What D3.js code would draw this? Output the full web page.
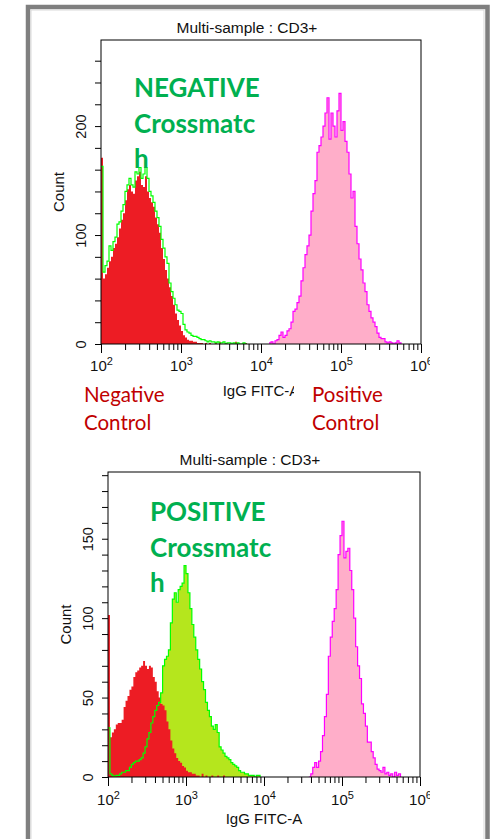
<!DOCTYPE html>
<html>
<head>
<meta charset="utf-8">
<script src="https://cdn.jsdelivr.net/npm/d3@7"></script>
<style>
body { margin: 0; background: #fff; }
svg { display: block; }
.ax text, .ttl { font-family: "Liberation Sans", Arial, sans-serif; fill: #111; }
.note { font-family: Lato, "Open Sans", sans-serif; }
</style>
</head>
<body>
<div class="svgs"></div>
<script>
// histogram bins: log10 channel width
const binStep = 0.025

// top plot (negative crossmatch)
const topNegCtrlStart = 2.0
const topNegCtrl = [171, 60, 64, 70, 76, 80, 88, 92, 98, 106,
    114, 120, 132, 142, 146, 140, 138, 150, 154, 158,
    146, 144, 154, 140, 134, 130, 126, 116, 110, 102,
    88, 78, 68, 60, 52, 44, 36, 28, 22, 17,
    12, 8, 6, 4, 3, 3, 2, 2, 1, 1,
    1, 0, 1, 0, 1, 0, 0, 1, 0, 2,
    0, 0, 1, 0, 0, 0, 0, 2, 0, 0,
    0, 0, 1]
const topPatientStart = 2.0
const topPatient = [163, 66, 72, 76, 90, 86, 94, 98, 110, 112,
    122, 128, 140, 146, 152, 146, 144, 158, 156, 162,
    152, 156, 162, 152, 140, 136, 130, 122, 116, 108,
    96, 88, 80, 74, 56, 48, 42, 36, 31, 30,
    28, 18, 13, 11, 10, 8, 7, 7, 6, 5,
    4, 4, 3, 2, 3, 2, 2, 1, 2, 1,
    1, 2, 0, 1, 1, 0, 1, 0, 1, 0,
    0, 1, 0]
const topPosCtrlStart = 4.1
const topPosCtrl = [1, 2, 0, 3, 4, 8, 11, 6, 8, 12,
    14, 20, 30, 32, 38, 44, 58, 70, 82, 90,
    100, 122, 138, 150, 176, 182, 190, 200, 212, 226,
    188, 212, 200, 190, 214, 230, 196, 204, 186, 176,
    156, 134, 140, 108, 92, 78, 68, 56, 48, 36,
    30, 24, 20, 16, 10, 6, 5, 5, 2, 1,
    2, 1, 0, 1, 3, 1]

// bottom plot (positive crossmatch)
const botNegCtrlStart = 2.0
const botNegCtrl = [102, 25, 28, 30, 33, 34, 34, 36, 44, 48,
    51, 55, 57, 63, 66, 67, 69, 70, 73, 70,
    68, 70, 69, 63, 60, 54, 50, 46, 45, 42,
    35, 30, 23, 18, 15, 12, 10, 9, 7, 6,
    4, 3, 3, 2, 2, 1, 1, 0, 2, 0,
    1, 0, 0, 1, 0, 0, 1, 0, 0, 1]
const botPatientStart = 2.0
const botPatient = [31, 2, 1, 0, 1, 1, 2, 3, 3, 4,
    4, 6, 8, 9, 10, 10, 11, 12, 15, 19,
    24, 28, 34, 38, 42, 45, 47, 53, 70, 74,
    76, 80, 97, 112, 116, 110, 118, 120, 122, 133,
    128, 116, 106, 96, 88, 80, 74, 68, 60, 55,
    47, 42, 38, 32, 30, 33, 28, 19, 17, 15,
    13, 12, 11, 9, 8, 7, 6, 4, 3, 3,
    2, 2, 1, 1, 1, 0, 1, 1]
const botPosCtrlStart = 4.575
const botPosCtrl = [0, 2, 6, 9, 6, 10, 16, 26, 38, 52,
    76, 88, 98, 106, 118, 140, 152, 161, 138, 142,
    144, 130, 118, 100, 82, 70, 62, 46, 40, 32,
    22, 22, 16, 12, 8, 5, 4, 3, 6, 2,
    3, 1, 2, 0, 3, 1, 2]

const xMajor = [1e2, 1e3, 1e4, 1e5, 1e6]

const red = "#ED1C24", lime = "#00FF00", yellowGreen = "#B5E61D"
const pink = "#FFAEC9", magenta = "#FF00FF"

const svg = d3.create("svg")
    .attr("width", 495)
    .attr("height", 839)

svg.append("rect").attr("width", 495).attr("height", 839).attr("fill", "#fff")

// outer slide frame
svg.append("rect")
    .attr("x", 28).attr("y", 7).attr("width", 459.5).attr("height", 900)
    .attr("fill", "none").attr("stroke", "#7f7f7f").attr("stroke-width", 4.5)
svg.append("rect")
    .attr("x", 31).attr("y", 10).attr("width", 453).attr("height", 900)
    .attr("fill", "none").attr("stroke", "#d9d9d9").attr("stroke-width", 1)

function toBins(values, start) {
    const pts = values.map((v, i) => ({x: Math.pow(10, start + i * binStep), v: v}))
    pts.push({x: Math.pow(10, start + values.length * binStep), v: 0})
    return pts
}

function drawPanel(p, series, id) {
    const x = d3.scaleLog().domain([1e2, 1e6]).range([p.l, p.r])
    const y = d3.scaleLinear().domain([0, p.yMax]).range([p.b, p.t])

    svg.append("text")
        .attr("class", "ttl")
        .attr("x", (p.l + p.r) / 2 - 14)
        .attr("y", p.titleY)
        .attr("text-anchor", "middle")
        .style("font-size", "15.5px")
        .text("Multi-sample : CD3+")

    svg.append("clipPath").attr("id", id)
        .append("rect")
        .attr("x", p.l).attr("y", p.t - 2)
        .attr("width", p.r - p.l).attr("height", p.b - p.t + 2)

    const plot = svg.append("g").attr("clip-path", `url(#${id})`)

    const area = d3.area()
        .curve(d3.curveStepAfter)
        .x(d => x(d.x))
        .y0(y(0))
        .y1(d => y(Math.min(d.v, p.yMax)))
    const line = d3.line()
        .curve(d3.curveStepAfter)
        .x(d => x(d.x))
        .y(d => y(Math.min(d.v, p.yMax)))

    series.forEach(s => {
        const bins = toBins(s.values, s.start)
        if (s.fill) {
            plot.append("path").datum(bins)
                .attr("fill", s.fill)
                .attr("d", area)
        }
        if (s.stroke) {
            plot.append("path").datum(bins)
                .attr("fill", "none")
                .attr("stroke", s.stroke)
                .attr("stroke-width", 1.2)
                .attr("d", line)
        }
    })

    // plot frame
    svg.append("rect")
        .attr("x", p.l).attr("y", p.t)
        .attr("width", p.r - p.l).attr("height", p.b - p.t)
        .attr("fill", "none").attr("stroke", "#000").attr("stroke-width", 1)

    // y axis
    const yTicks = d3.range(0, p.yMax, p.yMinor)
    const yAxis = svg.append("g")
        .attr("class", "ax")
        .attr("transform", `translate(${p.l},0)`)
        .call(d3.axisLeft(y).tickValues(yTicks).tickSize(6).tickSizeOuter(0)
            .tickFormat(d => p.yMajor.includes(d) ? d : ""))
    yAxis.select(".domain").remove()
    yAxis.selectAll(".tick line").attr("stroke", "#000")
    yAxis.selectAll(".tick text")
        .attr("x", 0).attr("dy", 0)
        .attr("text-anchor", "middle")
        .attr("transform", "translate(-15,0) rotate(-90)")
        .style("font-size", "14.5px")

    svg.append("text")
        .attr("class", "ttl")
        .attr("transform", `translate(${p.l - 37},${(p.t + p.b) / 2}) rotate(-90)`)
        .attr("text-anchor", "middle")
        .style("font-size", "15px")
        .text("Count")

    // x axis: minor then major ticks
    const xMinor = []
    for (let k = 2; k < 6; k++) {
        for (let m = 2; m < 10; m++) xMinor.push(m * Math.pow(10, k))
    }
    const xMin = svg.append("g")
        .attr("class", "ax")
        .attr("transform", `translate(0,${p.b})`)
        .call(d3.axisBottom(x).tickValues(xMinor).tickSize(6).tickSizeOuter(0).tickFormat(""))
    xMin.select(".domain").remove()
    xMin.selectAll(".tick line").attr("stroke", "#000")

    // the 10^6 label is cut at the picture edge
    svg.append("clipPath").attr("id", id + "x")
        .append("rect")
        .attr("x", 0).attr("y", -2)
        .attr("width", 430).attr("height", 40)

    const xMaj = svg.append("g")
        .attr("class", "ax")
        .attr("transform", `translate(0,${p.b})`)
        .call(d3.axisBottom(x).tickValues(xMajor).tickSize(9).tickSizeOuter(0).tickFormat(""))
    xMaj.attr("clip-path", `url(#${id}x)`)
    xMaj.select(".domain").remove()
    xMaj.selectAll(".tick line").attr("stroke", "#000")
    xMaj.selectAll(".tick text")
        .attr("y", p.xLabelDy).attr("dy", 0)
        .style("font-size", "15px")
        .each(function (d) {
            const t = d3.select(this)
            t.append("tspan").text("10")
            t.append("tspan")
                .attr("dy", -6)
                .style("font-size", "11px")
                .text(Math.round(Math.log10(d)))
        })

    svg.append("text")
        .attr("class", "ttl")
        .attr("x", (p.l + p.r) / 2)
        .attr("y", p.axisTitleY)
        .attr("text-anchor", "middle")
        .style("font-size", "15px")
        .text("IgG FITC-A")

    // green annotation
    const note = svg.append("text")
        .attr("class", "note")
        .attr("x", p.noteX)
        .attr("fill", "#00B050")
        .style("font-size", "26px")
        .style("font-weight", "bold")
    p.noteLines.forEach((s, i) => {
        note.append("tspan")
            .attr("x", p.noteX)
            .attr("y", p.noteY + i * 35.5)
            .text(s)
    })
}

drawPanel({l: 101, r: 421, t: 40, b: 344, yMax: 279, yMinor: 20, yMajor: [0, 100, 200],
        titleY: 33, xLabelDy: 27, axisTitleY: 396,
        noteX: 134, noteY: 97, noteLines: ["NEGATIVE", "Crossmatc", "h"]},
    [
        {values: topNegCtrl, start: topNegCtrlStart, fill: red},
        {values: topPatient, start: topPatientStart, stroke: lime},
        {values: topPosCtrl, start: topPosCtrlStart, fill: pink, stroke: magenta}
    ], "clipTop")

drawPanel({l: 108, r: 420, t: 472, b: 777, yMax: 192, yMinor: 10, yMajor: [0, 50, 100, 150],
        titleY: 465, xLabelDy: 28, axisTitleY: 824,
        noteX: 150, noteY: 521, noteLines: ["POSITIVE", "Crossmatc", "h"]},
    [
        {values: botPatient, start: botPatientStart, fill: yellowGreen},
        {values: botNegCtrl, start: botNegCtrlStart, fill: red},
        {values: botPatient, start: botPatientStart, stroke: lime},
        {values: botPosCtrl, start: botPosCtrlStart, fill: pink, stroke: magenta}
    ], "clipBot")

// control labels under the top plot (the box hides the end of the axis title)
svg.append("rect")
    .attr("x", 294).attr("y", 378).attr("width", 110).attr("height", 62)
    .attr("fill", "#fff")

const ctrl = [
    {x: 84, lines: ["Negative", "Control"]},
    {x: 312, lines: ["Positive", "Control"]}
]
ctrl.forEach(c => {
    const t = svg.append("text")
        .attr("class", "note")
        .attr("fill", "#C00000")
        .style("font-size", "20.5px")
    c.lines.forEach((s, i) => {
        t.append("tspan").attr("x", c.x).attr("y", 402 + i * 28).text(s)
    })
})

document.querySelector(".svgs").appendChild(svg.node())
</script>
</body>
</html>
